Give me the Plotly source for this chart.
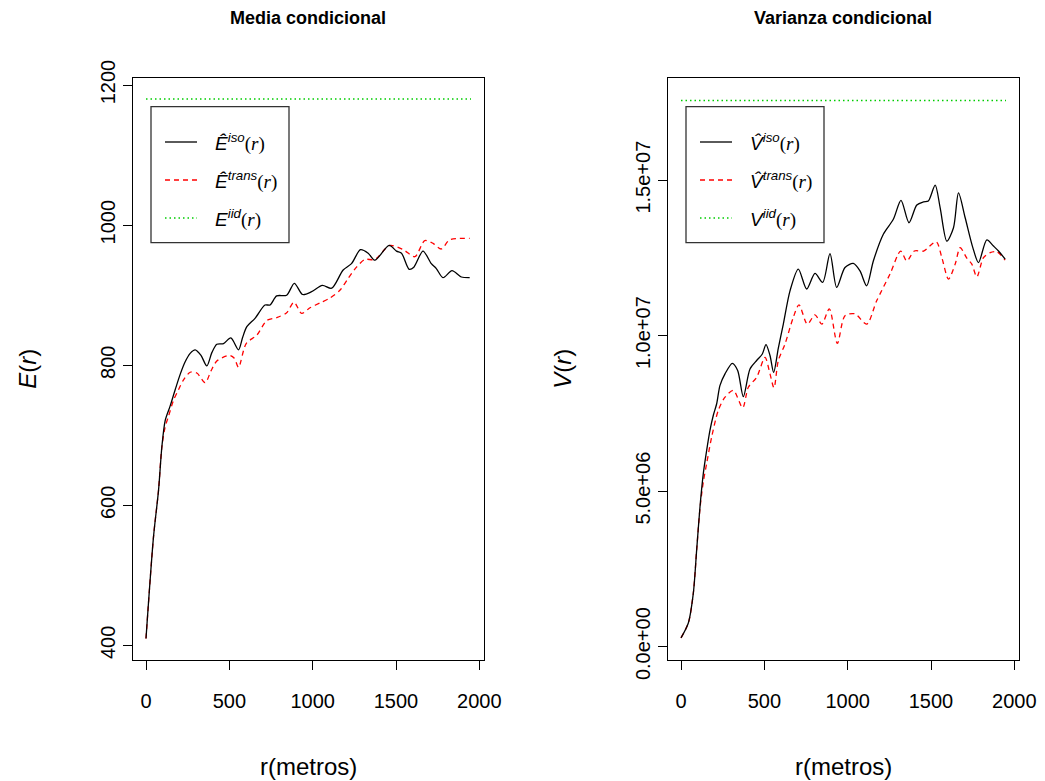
import plotly.graph_objects as go

W, H = 1045, 781

# Conditional mean estimates E(r) against distance r (metres)
r_mean_iso = [0, 45, 75, 95, 115, 145, 175, 205, 235, 265, 295, 330, 365, 395, 425,
              465, 509, 555, 580, 605, 654, 714, 744, 784, 844, 890, 940, 994, 1058,
              1114, 1183, 1233, 1287, 1333, 1373, 1459, 1503, 1533, 1579, 1607, 1662,
              1712, 1742, 1782, 1836, 1892, 1942]
mean_iso = [410, 555, 621, 683, 721, 742, 765, 787, 805, 817, 822, 814, 799, 818, 830,
            831, 839, 822, 840, 855, 867, 886, 886, 899, 900, 917, 901, 905, 914,
            910, 936, 945, 965, 960, 950, 971, 963, 960, 937, 940, 963,
            945, 938, 925, 935, 926, 925]

r_mean_trans = [0, 45, 75, 95, 115, 135, 165, 195, 225, 265, 305, 355, 390, 425, 501,
                530, 555, 601, 665, 725, 784, 844, 888, 934, 984, 1044, 1104, 1163,
                1213, 1263, 1313, 1373, 1463, 1543, 1613, 1673, 1722, 1772, 1822, 1942]
mean_trans = [410, 555, 621, 683, 712, 727, 750, 765, 779, 790, 789, 775, 792, 806, 814,
              810, 797, 831, 843, 864, 868, 875, 890, 874, 882, 889, 896, 907,
              924, 940, 951, 951, 971, 965, 955, 978, 974, 966, 979, 981]

mean_iid = 1180

# Conditional variance estimates V(r)
r_var_iso = [0, 44, 74, 94, 114, 134, 154, 174, 194, 214, 234, 264, 308, 340, 374, 414,
             454, 488, 510, 534, 556, 584, 614, 654, 704, 754, 804, 850, 894, 934, 984,
             1034, 1074, 1114, 1154, 1214, 1274, 1320, 1368, 1415, 1455, 1484, 1525,
             1555, 1595, 1635, 1665, 1705, 1751, 1785, 1835, 1875, 1905, 1945]
var_iso = [0.28e6, 0.76e6, 1.72e6, 3.11e6, 4.50e6, 5.57e6, 6.31e6, 6.96e6, 7.44e6,
           7.81e6, 8.40e6, 8.77e6, 9.11e6, 8.88e6, 8.04e6, 8.93e6, 9.20e6, 9.41e6,
           9.71e6, 9.36e6, 8.82e6, 9.60e6, 10.37e6, 11.44e6, 12.14e6, 11.50e6, 12.00e6,
           11.71e6, 12.64e6, 11.55e6, 12.19e6, 12.32e6, 12.08e6, 11.60e6, 12.40e6,
           13.26e6, 13.74e6, 14.35e6, 13.63e6, 14.20e6, 14.30e6, 14.33e6, 14.84e6,
           14.11e6, 13.04e6, 13.47e6, 14.59e6, 13.79e6, 12.83e6, 12.35e6, 13.08e6,
           12.88e6, 12.72e6, 12.46e6]

r_var_trans = [0, 44, 74, 94, 114, 134, 154, 184, 224, 264, 314, 370, 404, 454, 504, 534,
               558, 584, 624, 674, 708, 758, 804, 845, 890, 938, 984, 1044, 1114, 1174,
               1254, 1318, 1355, 1400, 1455, 1531, 1565, 1605, 1645, 1675, 1715, 1745,
               1775, 1815, 1855, 1895, 1945]
var_trans = [0.28e6, 0.76e6, 1.72e6, 3.11e6, 4.45e6, 5.30e6, 5.89e6, 6.74e6, 7.60e6,
             8.02e6, 8.24e6, 7.68e6, 8.34e6, 8.66e6, 9.30e6, 8.77e6, 8.32e6, 9.20e6,
             9.73e6, 10.59e6, 10.99e6, 10.37e6, 10.67e6, 10.37e6, 10.86e6, 9.75e6,
             10.64e6, 10.70e6, 10.37e6, 11.12e6, 11.98e6, 12.72e6, 12.40e6, 12.72e6,
             12.72e6, 13.02e6, 12.51e6, 11.82e6, 12.30e6, 12.83e6, 12.49e6, 12.30e6,
             11.89e6, 12.51e6, 12.67e6, 12.70e6, 12.43e6]

var_iid = 1.756e7

r_span = [0, 1950]

x_ticks = [0, 500, 1000, 1500, 2000]
mean_ticks = [400, 600, 800, 1000, 1200]
var_ticks = [0, 5e6, 1e7, 1.5e7]
var_tick_text = ["0.0e+00", "5.0e+06", "1.0e+07", "1.5e+07"]

BLACK = "#000000"
RED = "#FF0000"
GREEN = "#00CD00"
FONT = "Liberation Sans"
SERIF = "Liberation Serif"


def px(x):
    return x / W


def py(y):
    return 1 - y / H


fig = go.Figure()

line_iso = dict(color=BLACK, width=1.3)
line_trans = dict(color=RED, width=1.3, dash="5px,4px")
line_iid = dict(color=GREEN, width=1.5, dash="1.5px,3px")

# Left panel: conditional mean
fig.add_trace(go.Scatter(x=r_span, y=[mean_iid, mean_iid], mode="lines",
                         line=line_iid, xaxis="x", yaxis="y"))
fig.add_trace(go.Scatter(x=r_mean_trans, y=mean_trans, mode="lines",
                         line=dict(line_trans, shape="spline", smoothing=0.8),
                         xaxis="x", yaxis="y"))
fig.add_trace(go.Scatter(x=r_mean_iso, y=mean_iso, mode="lines",
                         line=dict(line_iso, shape="spline", smoothing=0.8),
                         xaxis="x", yaxis="y"))

# Right panel: conditional variance
fig.add_trace(go.Scatter(x=r_span, y=[var_iid, var_iid], mode="lines",
                         line=line_iid, xaxis="x2", yaxis="y2"))
fig.add_trace(go.Scatter(x=r_var_trans, y=var_trans, mode="lines",
                         line=dict(line_trans, shape="spline", smoothing=0.8),
                         xaxis="x2", yaxis="y2"))
fig.add_trace(go.Scatter(x=r_var_iso, y=var_iso, mode="lines",
                         line=dict(line_iso, shape="spline", smoothing=0.8),
                         xaxis="x2", yaxis="y2"))

# Plot boxes (pixel positions in the page)
left_box = (133, 483.5)
right_box = (668, 1018.5)
box_top, box_bottom = 77.5, 660

axis_common = dict(showline=True, mirror=True, linecolor=BLACK, linewidth=1,
                   ticks="outside", ticklen=9, tickwidth=1, tickcolor=BLACK,
                   showgrid=False, zeroline=False, automargin=False,
                   tickfont=dict(family=FONT, size=20, color=BLACK))
x_axis_common = dict(axis_common, ticklabelstandoff=14)

x_range = [-78, 2025]

fig.update_layout(
    template="none",
    width=W, height=H,
    margin=dict(l=0, r=0, t=0, b=0, autoexpand=False),
    paper_bgcolor="white", plot_bgcolor="white",
    showlegend=False,
    xaxis=dict(x_axis_common, domain=[px(left_box[0]), px(left_box[1])],
               range=x_range, tickvals=x_ticks, anchor="y"),
    yaxis=dict(axis_common, domain=[py(box_bottom), py(box_top)],
               range=[379.2, 1210.8], tickvals=mean_ticks, tickangle=-90,
               anchor="x"),
    xaxis2=dict(x_axis_common, domain=[px(right_box[0]), px(right_box[1])],
                range=x_range, tickvals=x_ticks, anchor="y2"),
    yaxis2=dict(axis_common, domain=[py(box_bottom), py(box_top)],
                range=[-0.43e6, 18.3e6], tickvals=var_ticks,
                ticktext=var_tick_text, tickangle=-90, anchor="x2"),
)

annotations = []
shapes = []

# Panel titles and axis titles
for cx, title, ytitle, ylab_x in [
    ((left_box[0] + left_box[1]) / 2, "Media condicional", "<i>E</i>(<i>r</i>)", 28),
    ((right_box[0] + right_box[1]) / 2, "Varianza condicional", "<i>V</i>(<i>r</i>)", 563),
]:
    annotations.append(dict(x=px(cx), y=py(18), xref="paper", yref="paper",
                            text="<b>%s</b>" % title, showarrow=False,
                            xanchor="center", yanchor="middle",
                            font=dict(family=FONT, size=18, color=BLACK)))
    annotations.append(dict(x=px(cx), y=py(766), xref="paper", yref="paper",
                            text="r(metros)", showarrow=False,
                            xanchor="center", yanchor="middle",
                            font=dict(family=FONT, size=24, color=BLACK)))
    annotations.append(dict(x=px(ylab_x), y=py((box_top + box_bottom) / 2),
                            xref="paper", yref="paper", text=ytitle,
                            showarrow=False, textangle=-90,
                            xanchor="center", yanchor="middle",
                            font=dict(family=FONT, size=24, color=BLACK)))


def legend(x0, sym):
    """Bordered key with line samples and labels, anchored at pixel x0."""
    shapes.append(dict(type="rect", xref="paper", yref="paper",
                       x0=px(x0), x1=px(x0 + 138), y0=py(106.7), y1=py(242.7),
                       line=dict(color="#333333", width=1.3), fillcolor="white",
                       layer="above"))
    rows = [
        (142, line_iso, "<i>%s</i><sup><i>iso</i></sup>" % sym[0]),
        (180, line_trans, "<i>%s</i><sup><i>trans</i></sup>" % sym[0]),
        (218, line_iid, "<i>%s</i><sup><i>iid</i></sup>" % sym[1]),
    ]
    for yy, ln, lab in rows:
        shapes.append(dict(type="line", xref="paper", yref="paper",
                           x0=px(x0 + 14), x1=px(x0 + 46), y0=py(yy), y1=py(yy),
                           line=ln, layer="above"))
        annotations.append(dict(
            x=px(x0 + 62), y=py(yy), xref="paper", yref="paper",
            text=lab + "<span style='font-family:%s'>(<i>r</i>)</span>" % SERIF,
            showarrow=False, xanchor="left", yanchor="middle",
            font=dict(family=FONT, size=19, color=BLACK)))


legend(151, ("\u00CA", "E"))
legend(686, ("V\u0302", "V"))

fig.update_layout(annotations=annotations, shapes=shapes)

fig.write_html("out.html")
